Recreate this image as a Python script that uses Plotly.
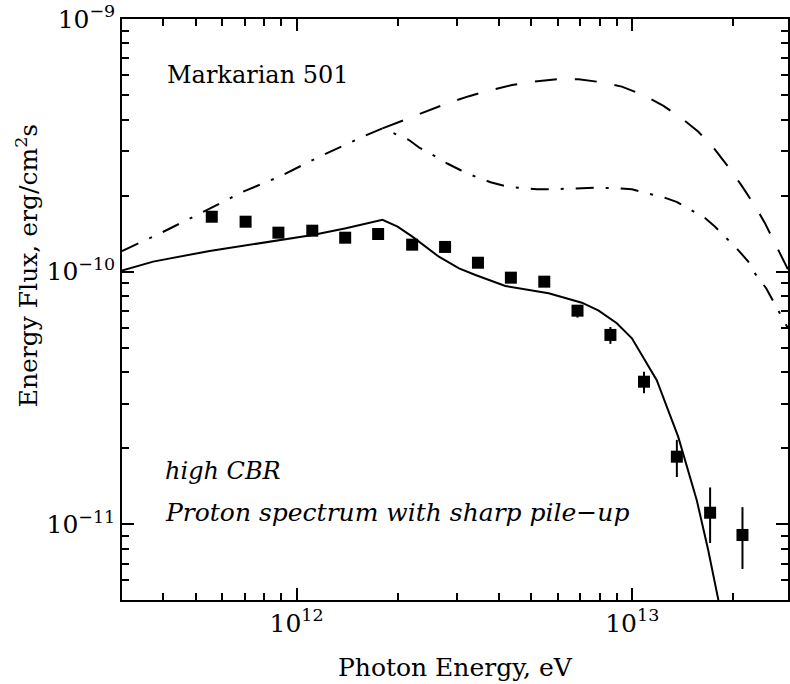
import numpy as np
import plotly.graph_objects as go

# ---------------- data ----------------
data_energy = [5.59e11, 7.05e11, 8.83e11, 1.114e12, 1.396e12, 1.75e12, 2.21e12,
               2.77e12, 3.47e12, 4.35e12, 5.47e12, 6.87e12, 8.61e12, 1.084e13,
               1.358e13, 1.706e13, 2.13e13]
data_flux = [1.650e-10, 1.577e-10, 1.427e-10, 1.453e-10, 1.363e-10, 1.410e-10,
             1.279e-10, 1.253e-10, 1.085e-10, 9.47e-11, 9.13e-11, 7.01e-11,
             5.62e-11, 3.67e-11, 1.853e-11, 1.112e-11, 9.08e-12]
data_flux_hi = [1.70e-10, 1.62e-10, 1.47e-10, 1.50e-10, 1.40e-10, 1.45e-10,
                1.32e-10, 1.29e-10, 1.12e-10, 9.80e-11, 9.45e-11, 7.38e-11,
                6.04e-11, 4.02e-11, 2.16e-11, 1.40e-11, 1.17e-11]
data_flux_lo = [1.60e-10, 1.53e-10, 1.38e-10, 1.41e-10, 1.32e-10, 1.37e-10,
                1.24e-10, 1.21e-10, 1.05e-10, 9.15e-11, 8.80e-11, 6.58e-11,
                5.18e-11, 3.30e-11, 1.54e-11, 8.44e-12, 6.66e-12]

# solid model curve
solid_energy = [3.02e11, 3.74e11, 5.51e11, 8.89e11, 1.117e12, 1.403e12, 1.803e12,
                2.000e12, 2.213e12, 2.655e12, 3.048e12, 3.412e12, 4.188e12,
                5.636e12, 7.079e12, 7.943e12, 8.995e12, 9.977e12, 1.183e13,
                1.371e13, 1.556e13, 1.683e13, 1.803e13, 1.83e13]
solid_flux = [1.01e-10, 1.096e-10, 1.208e-10, 1.334e-10, 1.396e-10, 1.485e-10,
              1.603e-10, 1.508e-10, 1.376e-10, 1.146e-10, 1.031e-10, 9.70e-11,
              8.78e-11, 8.22e-11, 7.54e-11, 7.01e-11, 6.25e-11, 5.45e-11,
              3.72e-11, 2.22e-11, 1.25e-11, 7.93e-12, 5.18e-12, 4.6e-12]

# dash-dot curve
dashdot_energy = [3.02e11, 4.01e11, 5.40e11, 6.92e11, 8.89e11, 1.169e12, 1.574e12,
                  1.803e12, 2.163e12, 2.317e12, 2.600e12, 2.812e12, 3.083e12,
                  3.451e12, 3.784e12, 4.198e12, 4.699e12, 5.200e12, 5.768e12,
                  6.546e12, 7.943e12, 8.995e12, 9.977e12, 1.091e13, 1.225e13,
                  1.355e13, 1.469e13, 1.648e13, 1.762e13, 1.888e13, 2.065e13,
                  2.213e13, 2.317e13, 2.506e13, 2.624e13, 2.748e13, 2.911e13]
dashdot_flux = [1.207e-10, 1.439e-10, 1.753e-10, 2.073e-10, 2.377e-10, 2.851e-10,
                3.421e-10, 3.69e-10, 3.32e-10, 3.10e-10, 2.85e-10, 2.68e-10,
                2.52e-10, 2.36e-10, 2.26e-10, 2.18e-10, 2.14e-10, 2.12e-10,
                2.12e-10, 2.13e-10, 2.15e-10, 2.14e-10, 2.12e-10, 2.05e-10,
                1.98e-10, 1.89e-10, 1.78e-10, 1.63e-10, 1.51e-10, 1.38e-10,
                1.22e-10, 1.10e-10, 9.87e-11, 8.60e-11, 7.67e-11, 6.84e-11,
                5.97e-11]

# dashed curve (branches off at the kink)
dashed_energy = [1.803e12, 2.118e12, 2.455e12, 2.812e12, 3.266e12, 3.784e12,
                 4.385e12, 5.093e12, 5.970e12, 6.918e12, 8.110e12, 9.311e12,
                 1.079e13, 1.239e13, 1.403e13, 1.574e13, 1.762e13, 1.932e13,
                 2.113e13, 2.291e13, 2.483e13, 2.655e13, 2.844e13, 2.911e13]
dashed_flux = [3.69e-10, 4.01e-10, 4.34e-10, 4.64e-10, 4.95e-10, 5.23e-10,
               5.48e-10, 5.65e-10, 5.77e-10, 5.77e-10, 5.62e-10, 5.40e-10,
               5.00e-10, 4.53e-10, 4.05e-10, 3.58e-10, 3.05e-10, 2.60e-10,
               2.20e-10, 1.87e-10, 1.56e-10, 1.30e-10, 1.08e-10, 1.02e-10]

x_tick_vals = [1e12, 1e13]
x_tick_text = ["10<sup>12</sup>", "10<sup>13</sup>"]
y_tick_vals = [1e-11, 1e-10, 1e-9]
y_tick_text = ["10<sup>\u221211</sup>", "10<sup>\u221210</sup>", "10<sup>\u22129</sup>"]

FONT = "DejaVu Serif"

err_plus = [h - f for h, f in zip(data_flux_hi, data_flux)]
err_minus = [f - l for f, l in zip(data_flux, data_flux_lo)]

x_minor = [k * 10.0 ** d for d in range(11, 14) for k in range(2, 10)]
y_minor = [k * 10.0 ** d for d in range(-12, -9) for k in range(2, 10)]

fig = go.Figure()

fig.add_trace(go.Scatter(x=dashdot_energy, y=dashdot_flux, mode="lines",
                         line=dict(color="black", width=2, dash="18px,12px,3px,12px"),
                         showlegend=False))
fig.add_trace(go.Scatter(x=dashed_energy, y=dashed_flux, mode="lines",
                         line=dict(color="black", width=2, dash="22px,18px"),
                         showlegend=False))
fig.add_trace(go.Scatter(x=solid_energy, y=solid_flux, mode="lines",
                         line=dict(color="black", width=2),
                         showlegend=False))
fig.add_trace(go.Scatter(x=data_energy, y=data_flux, mode="markers",
                         marker=dict(symbol="square", size=12, color="black"),
                         error_y=dict(type="data", array=err_plus, arrayminus=err_minus,
                                      color="black", thickness=2, width=0),
                         showlegend=False))

axis_common = dict(type="log", showgrid=False, zeroline=False, showline=True,
                   linecolor="black", linewidth=1.5, mirror="allticks",
                   ticks="inside", ticklen=12, tickwidth=1.5, tickcolor="black",
                   tickfont=dict(family=FONT, size=25, color="black"))

fig.update_xaxes(range=[np.log10(3.02e11), 13.464], tickmode="array",
                 tickvals=x_tick_vals, ticktext=x_tick_text,
                 minor=dict(ticks="inside", ticklen=7, tickwidth=1.5, tickcolor="black",
                            tickmode="array", tickvals=x_minor, showgrid=False),
                 **axis_common)
fig.update_yaxes(range=[np.log10(5.02e-12), -9], tickmode="array",
                 tickvals=y_tick_vals, ticktext=y_tick_text,
                 minor=dict(ticks="inside", ticklen=7, tickwidth=1.5, tickcolor="black",
                            tickmode="array", tickvals=y_minor, showgrid=False),
                 **axis_common)

annotations = [
    dict(text="Markarian 501", x=0.064, y=0.9036, xref="paper", yref="paper",
         xanchor="left", yanchor="middle", showarrow=False,
         font=dict(family=FONT, size=24, color="black")),
    dict(text="<i>high CBR</i>", x=0.061, y=0.222, xref="paper", yref="paper",
         xanchor="left", yanchor="middle", showarrow=False,
         font=dict(family=FONT, size=24, color="black")),
    dict(text="<i>Proton spectrum with sharp pile\u2212up</i>", x=0.061, y=0.150,
         xref="paper", yref="paper", xanchor="left", yanchor="middle", showarrow=False,
         font=dict(family=FONT, size=25, color="black")),
    dict(text="Photon Energy, eV", x=0.5, y=-0.117, xref="paper", yref="paper",
         xanchor="center", yanchor="middle", showarrow=False,
         font=dict(family=FONT, size=25, color="black")),
    dict(text="Energy Flux, erg/cm<sup>2</sup>s", x=-0.142, y=0.575, xref="paper",
         yref="paper", xanchor="center", yanchor="middle", textangle=-90,
         showarrow=False, font=dict(family=FONT, size=25, color="black")),
]

fig.update_layout(width=790, height=684, margin=dict(l=122, r=0, t=19, b=84),
                  paper_bgcolor="white", plot_bgcolor="white",
                  annotations=annotations, showlegend=False)

fig.write_html("out.html", config={"displayModeBar": False},
               post_script="document.body.style.margin='0px';document.body.style.overflow='hidden';")
